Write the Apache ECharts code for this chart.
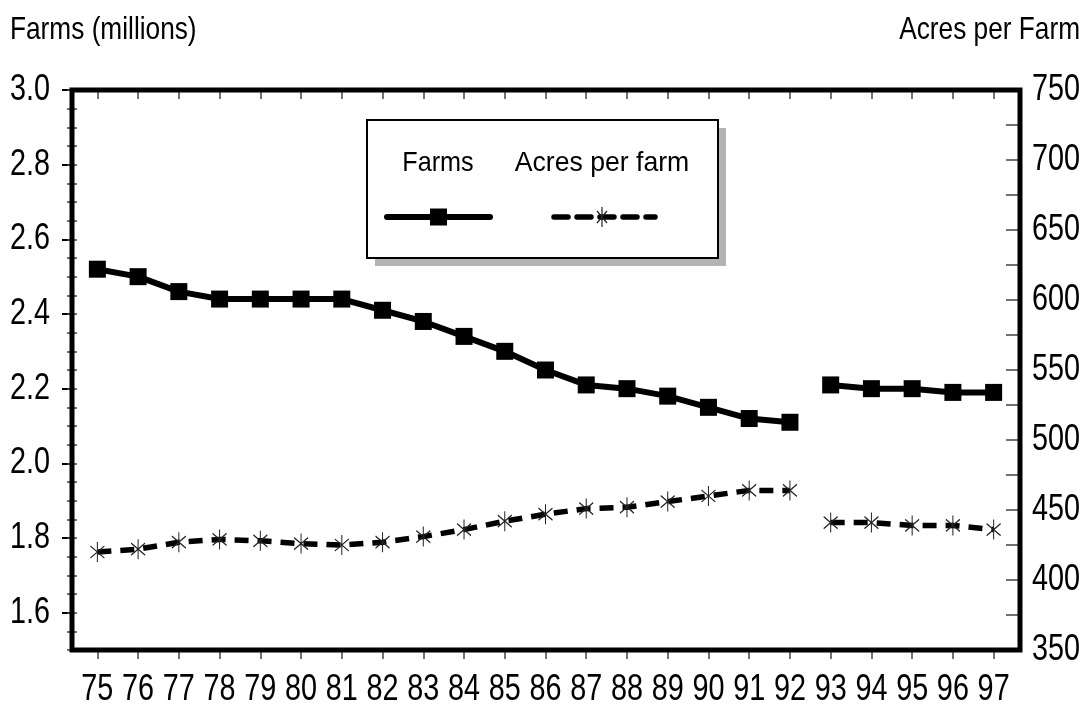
<!DOCTYPE html>
<html><head><meta charset="utf-8">
<script src="https://cdn.jsdelivr.net/npm/echarts@6/dist/echarts.min.js"></script>
<style>html,body{margin:0;padding:0;background:#fff}#c{width:1088px;height:709px}</style>
</head><body><div id="c"></div>
<script>
// ---- data ----
const years = ['75','76','77','78','79','80','81','82','83','84','85','86','87','88','89','90','91','92','93','94','95','96','97'];
const farms = [2.52,2.50,2.46,2.44,2.44,2.44,2.44,2.41,2.38,2.34,2.30,2.25,2.21,2.20,2.18,2.15,2.12,2.11,2.21,2.20,2.20,2.19,2.19];
const acres = [420,422,427,429,428,426,425,427,431,436,442,447,451,452,456,460,464,464,441,441,439,439,436];
const breakAfter = '92';
const leftLabels = [1.6,1.8,2.0,2.2,2.4,2.6,2.8,3.0];
const rightLabels = [350,400,450,500,550,600,650,700,750];
const leftMinorTicks = [1.5,1.55,1.6,1.65,1.7,1.75,1.8,1.85,1.9,1.95,2.0,2.05,2.1,2.15,2.2,2.25,2.3,2.35,2.4,2.45,2.5,2.55,2.6,2.65,2.7,2.75,2.8,2.85,2.9,2.95,3.0];
const rightTicks = [350,375,400,425,450,475,500,525,550,575,600,625,650,675,700,725,750];

const bi = years.indexOf(breakAfter);
const seg = (arr, first) => arr.map((v, i) => (first ? i <= bi : i > bi) ? v : null);

const star = 'path://M5,0 L5,20 M0,4 L10,16 M0,16 L10,4';

const farmsStyle = {
  type: 'line', xAxisIndex: 1, yAxisIndex: 1, symbol: 'rect', symbolSize: 17,
  lineStyle: { color: '#000', width: 6 }, itemStyle: { color: '#000' },
  connectNulls: false, animation: false, z: 3
};
const acresStyle = {
  type: 'line', xAxisIndex: 1, yAxisIndex: 2, symbol: star, symbolSize: [14, 20],
  lineStyle: { color: '#000', width: 5.5, type: [14, 9] },
  itemStyle: { color: '#000', borderColor: '#222', borderWidth: 1.2 },
  connectNulls: false, animation: false, z: 2
};

const txt = (x, y, text, size, align, sx) => ({
  type: 'text', z: 7, x: x, y: y, scaleX: sx,
  style: { text: text, font: size + "px 'Liberation Sans', Arial, sans-serif", fill: '#000', align: align, verticalAlign: 'middle' }
});
const seg2 = (x1, y1, x2, y2) => ({ type: 'line', z: 8, shape: { x1: x1, y1: y1, x2: x2, y2: y2 }, style: { stroke: '#222', lineWidth: 1.2 } });

const baseGraphic = [
  { type: 'rect', z: 5, shape: { x: 375, y: 128, width: 351, height: 138 }, style: { fill: '#b3b3b3' } },
  { type: 'rect', z: 6, shape: { x: 367, y: 120, width: 351, height: 138 }, style: { fill: '#fff', stroke: '#000', lineWidth: 2 } },
  txt(438, 163, 'Farms', 28, 'center', 0.9),
  txt(602, 163, 'Acres per farm', 28, 'center', 0.95),
  txt(10, 30, 'Farms (millions)', 32, 'left', 0.82),
  txt(1080, 30, 'Acres per Farm', 32, 'right', 0.82),
  { type: 'line', z: 7, shape: { x1: 387, y1: 217, x2: 490, y2: 217 }, style: { stroke: '#000', lineWidth: 6, lineCap: 'round' } },
  { type: 'rect', z: 8, shape: { x: 430, y: 208.5, width: 17, height: 17 }, style: { fill: '#000' } },
  { type: 'line', z: 7, shape: { x1: 554, y1: 217, x2: 655, y2: 217 }, style: { stroke: '#000', lineWidth: 5.5, lineDash: [14, 9], lineCap: 'round' } },
  seg2(602, 207, 602, 227), seg2(597, 211, 607, 223), seg2(597, 223, 607, 211)
];

const chart = echarts.init(document.getElementById('c'));
chart.setOption({
  backgroundColor: '#fff',
  animation: false,
  grid: [
    { left: 72, right: 68, top: 90, bottom: 59, show: true, borderColor: '#000', borderWidth: 5, backgroundColor: 'transparent', z: 1 },
    { left: 77, right: 74, top: 90, bottom: 59 }
  ],
  xAxis: [
    { gridIndex: 0, type: 'value', show: false, min: 0, max: 1 },
    { gridIndex: 1, type: 'category', data: years, boundaryGap: true,
      axisLine: { show: false },
      axisTick: { show: true, alignWithLabel: true, interval: 0, length: 9, lineStyle: { color: '#444', width: 1.5 } },
      axisLabel: { show: false },
      splitLine: { show: false } },
    { gridIndex: 1, type: 'category', data: years, boundaryGap: true,
      axisLine: { show: false },
      axisTick: { show: true, inside: true, interval: 0, alignWithLabel: true, length: 9, lineStyle: { color: '#444', width: 1.5 } },
      axisLabel: { show: false }, splitLine: { show: false } }
  ],
  yAxis: [
    { gridIndex: 0, type: 'value', show: false, min: 0, max: 1 },
    { gridIndex: 1, type: 'value', position: 'left', offset: 5, min: 1.5, max: 3.0,
      axisLine: { show: false },
      axisTick: { show: true, length: 10, customValues: leftLabels, lineStyle: { color: '#000', width: 2 } },
      axisLabel: { show: false },
      splitLine: { show: false } },
    { gridIndex: 1, type: 'value', position: 'right', offset: 6, min: 350, max: 750, interval: 50,
      axisLine: { show: false },
      axisTick: { show: true, inside: true, length: 14, customValues: rightTicks, lineStyle: { color: '#444', width: 1.5 } },
      axisLabel: { show: false },
      splitLine: { show: false } },
    { gridIndex: 1, type: 'value', position: 'left', offset: 5, min: 1.5, max: 3.0,
      axisLine: { show: false },
      axisTick: { show: true, length: 5, customValues: leftMinorTicks, lineStyle: { color: '#444', width: 1.5 } },
      axisLabel: { show: false }, splitLine: { show: false } },
    { gridIndex: 1, type: 'value', position: 'left', offset: 5, min: 1.5, max: 3.0,
      axisLine: { show: false },
      axisTick: { show: true, inside: true, length: 5, customValues: leftMinorTicks, lineStyle: { color: '#444', width: 1.5 } },
      axisLabel: { show: false }, splitLine: { show: false } }
  ],
  legend: { show: false },
  graphic: baseGraphic,
  series: [
    Object.assign({ name: 'Farms', data: seg(farms, true) }, farmsStyle),
    Object.assign({ name: 'Farms ', data: seg(farms, false) }, farmsStyle),
    Object.assign({ name: 'Acres per farm', data: seg(acres, true) }, acresStyle),
    Object.assign({ name: 'Acres per farm ', data: seg(acres, false) }, acresStyle)
  ]
});

// Tick labels in a condensed face, placed through the chart's own axis scales
const labelG = [];
years.forEach(y => {
  const px = chart.convertToPixel({ xAxisIndex: 1 }, y);
  labelG.push(txt(px, 690, y, 36, 'center', 0.8));
});
leftLabels.forEach(v => {
  const py = chart.convertToPixel({ yAxisIndex: 1 }, v);
  labelG.push(txt(50, py, v.toFixed(1), 36, 'right', 0.8));
});
rightLabels.forEach(v => {
  const py = chart.convertToPixel({ yAxisIndex: 2 }, v);
  labelG.push(txt(1032, py, String(v), 36, 'left', 0.8));
});
chart.setOption({ graphic: baseGraphic.concat(labelG) });
</script>
</body></html>
